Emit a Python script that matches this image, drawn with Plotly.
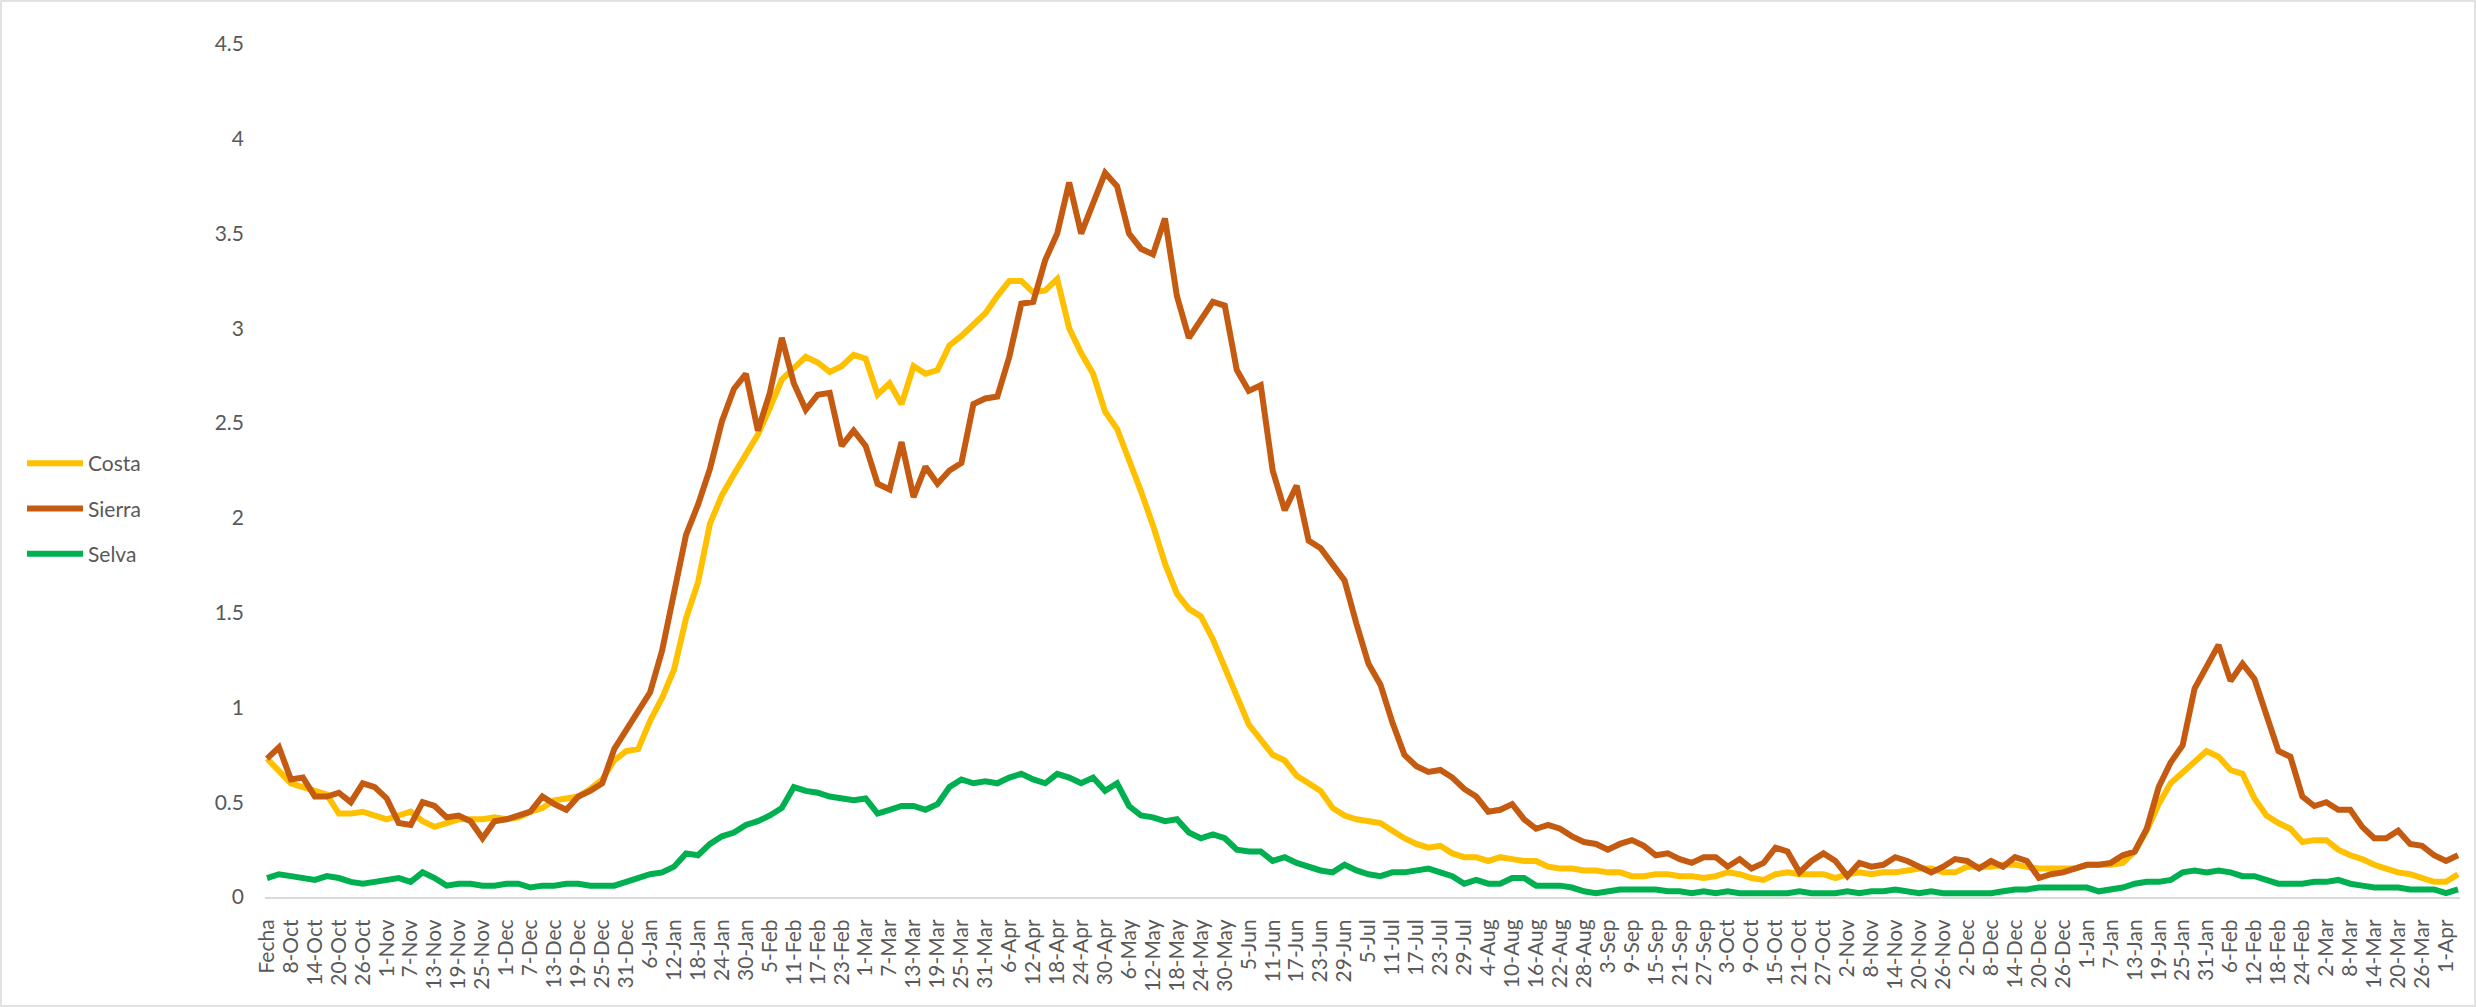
import pandas as pd
import plotly.graph_objects as go

START = "2020-10-02"
STEP = "3D"

COSTA = [
    0.73, 0.67, 0.60, 0.58, 0.56, 0.54, 0.44, 0.44, 0.45, 0.43, 0.41, 0.43, 0.45, 0.40, 0.37, 0.39,
    0.41, 0.41, 0.41, 0.42, 0.41, 0.42, 0.45, 0.47, 0.51, 0.52, 0.53, 0.57, 0.62, 0.72, 0.77, 0.78,
    0.93, 1.05, 1.20, 1.47, 1.66, 1.97, 2.12, 2.23, 2.34, 2.44, 2.58, 2.73, 2.79, 2.85, 2.82, 2.77,
    2.80, 2.86, 2.84, 2.65, 2.71, 2.60, 2.80, 2.76, 2.78, 2.91, 2.96, 3.02, 3.08, 3.17, 3.25,
    3.25, 3.19, 3.20, 3.26, 3.00, 2.87, 2.76, 2.56, 2.47, 2.31, 2.14, 1.96, 1.76, 1.60, 1.52, 1.48,
    1.36, 1.21, 1.06, 0.91, 0.83, 0.75, 0.72, 0.64, 0.60, 0.56, 0.47, 0.43, 0.41, 0.40, 0.39,
    0.35, 0.31, 0.28, 0.26, 0.27, 0.23, 0.21, 0.21, 0.19, 0.21, 0.20, 0.19, 0.19, 0.16, 0.15, 0.15,
    0.14, 0.14, 0.13, 0.13, 0.11, 0.11, 0.12, 0.12, 0.11, 0.11, 0.10, 0.11, 0.13, 0.12, 0.10,
    0.09, 0.12, 0.13, 0.12, 0.12, 0.12, 0.10, 0.12, 0.13, 0.12, 0.13, 0.13, 0.14, 0.15, 0.15, 0.13,
    0.13, 0.16, 0.16, 0.16, 0.17, 0.17, 0.16, 0.15, 0.15, 0.15, 0.15, 0.17, 0.17, 0.17, 0.18,
    0.24, 0.35, 0.49, 0.60, 0.66, 0.72, 0.77, 0.74, 0.67, 0.65, 0.52, 0.43, 0.39, 0.36, 0.29, 0.30,
    0.30, 0.25, 0.22, 0.20, 0.17, 0.15, 0.13, 0.12, 0.10, 0.08, 0.08, 0.12,
]

SIERRA = [
    0.73, 0.79, 0.62, 0.63, 0.53, 0.53, 0.55, 0.50, 0.60, 0.58, 0.52, 0.39, 0.38, 0.50, 0.48, 0.42,
    0.43, 0.40, 0.31, 0.40, 0.41, 0.43, 0.45, 0.53, 0.49, 0.46, 0.53, 0.56, 0.60, 0.78, 0.88, 0.97,
    1.08, 1.30, 1.62, 1.91, 2.07, 2.26, 2.51, 2.68, 2.76, 2.46, 2.66, 2.95, 2.71, 2.57, 2.65, 2.66,
    2.38, 2.46, 2.38, 2.18, 2.15, 2.40, 2.11, 2.27, 2.18, 2.25, 2.29, 2.60, 2.63, 2.64, 2.85,
    3.13, 3.14, 3.36, 3.50, 3.77, 3.50, 3.66, 3.82, 3.75, 3.50, 3.42, 3.39, 3.58, 3.17, 2.95, 3.05,
    3.14, 3.12, 2.78, 2.67, 2.70, 2.25, 2.04, 2.17, 1.88, 1.84, 1.75, 1.67, 1.44, 1.23, 1.12,
    0.92, 0.75, 0.69, 0.66, 0.67, 0.63, 0.57, 0.53, 0.45, 0.46, 0.49, 0.41, 0.36, 0.38, 0.36, 0.32,
    0.29, 0.28, 0.25, 0.28, 0.30, 0.27, 0.22, 0.23, 0.20, 0.18, 0.21, 0.21, 0.16, 0.20, 0.15,
    0.18, 0.26, 0.24, 0.13, 0.19, 0.23, 0.19, 0.11, 0.18, 0.16, 0.17, 0.21, 0.19, 0.16, 0.13, 0.16,
    0.20, 0.19, 0.15, 0.19, 0.16, 0.21, 0.19, 0.10, 0.12, 0.13, 0.15, 0.17, 0.17, 0.18, 0.22,
    0.24, 0.36, 0.58, 0.71, 0.80, 1.10, 1.22, 1.33, 1.14, 1.23, 1.15, 0.95, 0.77, 0.74, 0.53, 0.48,
    0.50, 0.46, 0.46, 0.37, 0.31, 0.31, 0.35, 0.28, 0.27, 0.22, 0.19, 0.22,
]

SELVA = [
    0.10, 0.12, 0.11, 0.10, 0.09, 0.11, 0.10, 0.08, 0.07, 0.08, 0.09, 0.10, 0.08, 0.13, 0.10, 0.06,
    0.07, 0.07, 0.06, 0.06, 0.07, 0.07, 0.05, 0.06, 0.06, 0.07, 0.07, 0.06, 0.06, 0.06, 0.08, 0.10,
    0.12, 0.13, 0.16, 0.23, 0.22, 0.28, 0.32, 0.34, 0.38, 0.40, 0.43, 0.47, 0.58, 0.56, 0.55, 0.53,
    0.52, 0.51, 0.52, 0.44, 0.46, 0.48, 0.48, 0.46, 0.49, 0.58, 0.62, 0.60, 0.61, 0.60, 0.63,
    0.65, 0.62, 0.60, 0.65, 0.63, 0.60, 0.63, 0.56, 0.60, 0.48, 0.43, 0.42, 0.40, 0.41, 0.34, 0.31,
    0.33, 0.31, 0.25, 0.24, 0.24, 0.19, 0.21, 0.18, 0.16, 0.14, 0.13, 0.17, 0.14, 0.12, 0.11,
    0.13, 0.13, 0.14, 0.15, 0.13, 0.11, 0.07, 0.09, 0.07, 0.07, 0.10, 0.10, 0.06, 0.06, 0.06, 0.05,
    0.03, 0.02, 0.03, 0.04, 0.04, 0.04, 0.04, 0.03, 0.03, 0.02, 0.03, 0.02, 0.03, 0.02, 0.02,
    0.02, 0.02, 0.02, 0.03, 0.02, 0.02, 0.02, 0.03, 0.02, 0.03, 0.03, 0.04, 0.03, 0.02, 0.03, 0.02,
    0.02, 0.02, 0.02, 0.02, 0.03, 0.04, 0.04, 0.05, 0.05, 0.05, 0.05, 0.05, 0.03, 0.04, 0.05,
    0.07, 0.08, 0.08, 0.09, 0.13, 0.14, 0.13, 0.14, 0.13, 0.11, 0.11, 0.09, 0.07, 0.07, 0.07, 0.08,
    0.08, 0.09, 0.07, 0.06, 0.05, 0.05, 0.05, 0.04, 0.04, 0.04, 0.02, 0.04,
]

TICK_LABELS = [
    "Fecha", "8-Oct", "14-Oct", "20-Oct", "26-Oct", "1-Nov", "7-Nov", "13-Nov", "19-Nov", "25-Nov",
    "1-Dec", "7-Dec", "13-Dec", "19-Dec", "25-Dec", "31-Dec", "6-Jan", "12-Jan", "18-Jan", "24-Jan",
    "30-Jan", "5-Feb", "11-Feb", "17-Feb", "23-Feb", "1-Mar", "7-Mar", "13-Mar", "19-Mar", "25-Mar",
    "31-Mar", "6-Apr", "12-Apr", "18-Apr", "24-Apr", "30-Apr", "6-May", "12-May", "18-May", "24-May",
    "30-May", "5-Jun", "11-Jun", "17-Jun", "23-Jun", "29-Jun", "5-Jul", "11-Jul", "17-Jul", "23-Jul",
    "29-Jul", "4-Aug", "10-Aug", "16-Aug", "22-Aug", "28-Aug", "3-Sep", "9-Sep", "15-Sep", "21-Sep",
    "27-Sep", "3-Oct", "9-Oct", "15-Oct", "21-Oct", "27-Oct", "2-Nov", "8-Nov", "14-Nov", "20-Nov",
    "26-Nov", "2-Dec", "8-Dec", "14-Dec", "20-Dec", "26-Dec", "1-Jan", "7-Jan", "13-Jan", "19-Jan",
    "25-Jan", "31-Jan", "6-Feb", "12-Feb", "18-Feb", "24-Feb", "2-Mar", "8-Mar", "14-Mar", "20-Mar",
    "26-Mar", "1-Apr",
]
TICK_STEP = "6D"

SERIES = ["Costa", "Sierra", "Selva"]
COLORS = ["#FFC000", "#C55A11", "#00B050"]

# ---- figure ----
dates = pd.date_range(START, periods=len(COSTA), freq=STEP)
tickvals = pd.date_range(START, periods=len(TICK_LABELS), freq=TICK_STEP)

W, H = 2476, 1007
ML, MR, MT, MB = 265, 16, 44, 110
FONT = "Lato, Carlito, Calibri, sans-serif"
GREY = "#595959"

fig = go.Figure()
for name, vals, col in zip(SERIES, [COSTA, SIERRA, SELVA], COLORS):
    fig.add_trace(go.Scatter(
        x=dates, y=vals, name=name, mode="lines", legendgroup=name,
        line=dict(color=col, width=6, shape="linear"),
    ))

x0 = pd.Timestamp(START) - pd.Timedelta(hours=12)
x1 = dates[-1] + pd.Timedelta(hours=12)

fig.update_layout(
    width=W, height=H,
    margin=dict(l=ML, r=MR, t=MT, b=MB),
    paper_bgcolor="white", plot_bgcolor="white",
    font=dict(family=FONT, size=21, color=GREY),
    showlegend=True,
    legend=dict(
        x=(22 - ML) / (W - ML - MR), y=(H - MB - 443) / (H - MB - MT),
        xanchor="left", yanchor="top",
        traceorder="grouped", tracegroupgap=15,
        font=dict(family=FONT, size=21, color=GREY),
        bgcolor="rgba(0,0,0,0)", itemwidth=56,
    ),
    xaxis=dict(
        type="date", range=[x0, x1],
        tickvals=list(tickvals), ticktext=TICK_LABELS, tickangle=-90,
        showgrid=False, zeroline=False, showline=True,
        linecolor="#D9D9D9", linewidth=2, ticks="",
        tickfont=dict(family=FONT, size=21, color=GREY),
        ticklabelstandoff=12,
    ),
    yaxis=dict(
        range=[0, 4.5], dtick=0.5, tick0=0,
        showgrid=False, zeroline=False, showline=False, ticks="",
        tickfont=dict(family=FONT, size=21, color=GREY),
        ticklabelstandoff=20,
    ),
    shapes=[dict(
        type="rect", xref="paper", yref="paper",
        x0=(1 - ML) / (W - ML - MR), x1=(W - 1 - ML) / (W - ML - MR),
        y0=-(MB - 1) / (H - MB - MT), y1=(H - MB - 1) / (H - MB - MT),
        line=dict(color="#D9D9D9", width=1.5), fillcolor="rgba(0,0,0,0)", layer="below",
    )],
)

fig.write_html(
    "out.html",
    config={"displayModeBar": False},
    post_script="document.body.style.margin='0';document.body.style.overflow='hidden';",
)
